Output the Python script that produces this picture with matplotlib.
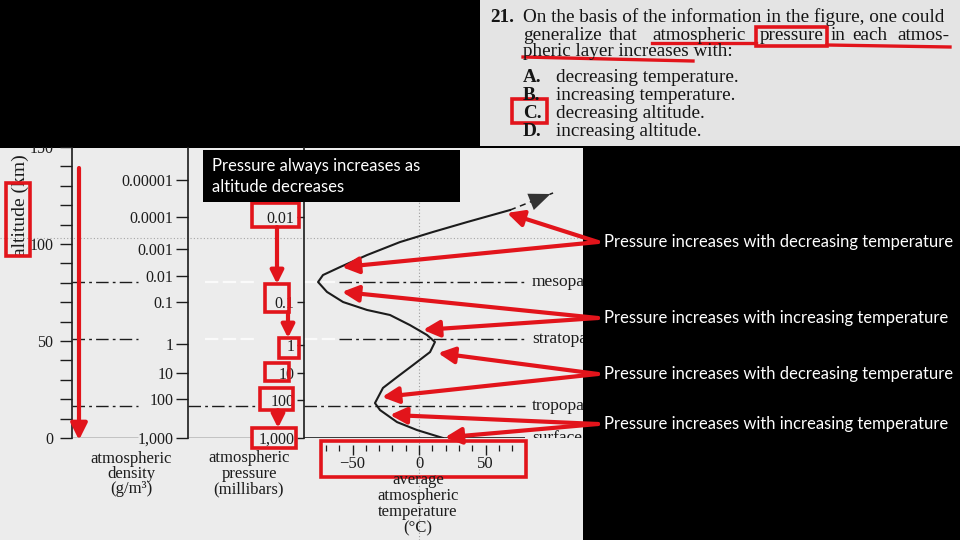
import numpy as np
import matplotlib.pyplot as plt
from matplotlib.patches import Rectangle

W, H = 960, 540

# average temperature profile
temp_c = [18.0, -1.5, -16.5, -29.3, -33.1, -27.1, -16.5, -4.5, 8.3, 12.0, 6.0, -6.8,
          -21.8, -39.1, -57.1, -69.2, -75.9, -72.2, -59.4, -39.1, -14.3, 10.5, 36.1, 68.4]
alt_km = [0, 4.1, 8.2, 14.4, 18.0, 25.8, 31.4, 37.6, 44.3, 49.5, 53.1, 58.2,
          63.4, 66.0, 70.1, 75.3, 80.4, 84.0, 88.1, 94.3, 101.0, 106.2, 111.3, 117.5]
ext_temp = [68.4, 100.8]
ext_alt = [117.5, 126.3]

alt_major = [0, 50, 100, 150]
alt_minor = list(range(0, 151, 10))

density_labels = ['0.00001', '0.0001', '0.001', '0.01', '0.1', '1', '10', '100', '1,000']
density_alt = [133, 114, 97.4, 83.5, 70.1, 48.5, 33.5, 20.1, 0]

pressure_labels = ['0.01', '0.1', '1', '10', '100', '1,000']
pressure_alt = [114, 70, 48, 33.5, 19.6, 0]

temp_major = [-50, 0, 50]
temp_major_labels = ['\u221250', '0', '50']
temp_minor = list(range(-70, 71, 10))

layer_names = ['tropopause', 'stratopause', 'mesopause']
layer_alt = [16.5, 51, 80.5]

# red arrows: curve points each note points at
arrow_temp = [66.2, -57.9, -57.9, 3.0, 14.3, -27.8, -21.8, 19.5]
arrow_alt = [116, 88.1, 75.3, 55.7, 43.8, 21.1, 11.9, 0.3]
note_y = [242, 318, 374, 424]
notes = ['Pressure increases with decreasing temperature',
         'Pressure increases with increasing temperature',
         'Pressure increases with decreasing temperature',
         'Pressure increases with increasing temperature']

# question text; the justified second line is set word by word
q_line1 = 'On the basis of the information in the figure, one could'
q_line2 = [(523, 'generalize'), (609, 'that'), (652, 'atmospheric'), (760, 'pressure'),
           (831, 'in'), (852, 'each'), (897, 'atmos-')]
q_line3 = 'pheric layer increases with:'
options = [('A.', 'decreasing temperature.'), ('B.', 'increasing temperature.'),
           ('C.', 'decreasing altitude.'), ('D.', 'increasing altitude.')]

ink = '#1c1c1c'
scan = '#ececec'
paper = '#e4e4e4'
red = '#e2141b'
dashdot = (0, (9, 3, 2, 3))
sans = ['Lato', 'DejaVu Sans']

plt.rcParams['font.family'] = ['Liberation Serif', 'DejaVu Serif']


def px_box(x0, y0, x1, y1):
    return [x0 / W, 1 - y1 / H, (x1 - x0) / W, (y1 - y0) / H]


fig = plt.figure(figsize=(9.6, 5.4), dpi=100, facecolor='black')

bg = fig.add_axes([0, 0, 1, 1])
bg.set_xlim(0, W)
bg.set_ylim(H, 0)
bg.axis('off')
bg.add_patch(Rectangle((0, 148), 583, 392, color=scan, lw=0))
bg.add_patch(Rectangle((480, 0), 480, 146, color=paper, lw=0))
bg.hlines(238, 0, 583, colors='#a5a5a5', linestyles=(0, (1, 2)), lw=0.8)


def column(x0, x1):
    a = fig.add_axes(px_box(x0, 147, x1, 438))
    a.patch.set_alpha(0)
    a.set_ylim(0, 150)
    for s in ['top', 'right', 'bottom']:
        a.spines[s].set_visible(False)
    a.spines['left'].set_color(ink)
    a.spines['left'].set_linewidth(1.2)
    return a


# altitude column
aax = column(72, 188)
aax.set_xlim(0, 1)
aax.set_xticks([])
aax.set_yticks(alt_major, [str(v) for v in alt_major])
aax.set_yticks(alt_minor, minor=True)
aax.tick_params(axis='y', which='both', direction='out', length=8.5, width=1,
                color=ink, pad=5, labelsize=11.5, labelcolor=ink)
aax.set_ylabel('altitude (km)', fontsize=14, color=ink)
aax.yaxis.set_label_coords(-0.37, 0.80)
aax.hlines(layer_alt, 0, 0.57, colors=ink, linestyles=[dashdot], lw=1)
aax.hlines(0, 0, 0.57, colors=ink, lw=1)

# density column
dax = column(188, 304)
dax.set_xlim(0, 1)
dax.set_xticks([])
dax.set_yticks(density_alt, density_labels)
dax.tick_params(axis='y', direction='out', length=8.5, width=1, color=ink,
                pad=2, labelsize=11.5, labelcolor=ink)
dax.hlines(layer_alt[0], 0, 0.62, colors=ink, linestyles=[dashdot], lw=1)
dax.hlines(layer_alt[1:], 0.15, 0.6, colors='#fafafa', linestyles=[(0, (6, 2))], lw=1.6)
dax.hlines(0, 0, 0.55, colors=ink, lw=1)

# pressure axis + temperature profile
t_left, t_right = (304 - 419) / 1.33, (583 - 419) / 1.33
tax = column(304, 583)
tax.set_xlim(t_left, t_right)
tax.set_yticks(pressure_alt, pressure_labels)
tax.tick_params(axis='y', direction='out', length=5, width=1, color=ink,
                pad=2, labelsize=11.5, labelcolor=ink)
tax.spines['bottom'].set_position(('outward', 5))
tax.spines['bottom'].set_visible(False)
tax.set_xticks(temp_major, temp_major_labels)
tax.set_xticks(temp_minor, minor=True)
tax.tick_params(axis='x', which='major', direction='out', length=7, width=1,
                color=ink, pad=1, labelsize=12, labelcolor=ink)
tax.tick_params(axis='x', which='minor', direction='out', length=4.5, width=0.9, color=ink)

tax.axvline(0, ymin=-0.35, ymax=0.94, clip_on=False, color='#9c9c9c',
            ls=(0, (1, 2)), lw=0.8, zorder=0)
tax.hlines(layer_alt[0], t_left, 80, colors=ink, linestyles=[dashdot], lw=1)
tax.hlines(layer_alt[1:], -60, 80, colors=ink, linestyles=[dashdot], lw=1)
tax.hlines(layer_alt[1:], t_left, -62, colors='#fafafa', linestyles=[(0, (6, 2))], lw=1.6)
tax.hlines(0, t_left, 80, colors=ink, lw=1.2)
for name, a in zip(['surface'] + layer_names, [0] + layer_alt):
    tax.text(85, a, name, va='center', ha='left', fontsize=12.5, color=ink, clip_on=True)

tax.plot(temp_c, alt_km, color=ink, lw=1.5)
tax.plot(ext_temp, ext_alt, color=ink, lw=1.1, ls=(0, (4, 3)))
tax.annotate('', xy=(ext_temp[1], ext_alt[1]), xytext=(ext_temp[0], ext_alt[0]),
             arrowprops=dict(arrowstyle='-|>,head_length=1.1,head_width=0.45',
                             mutation_scale=14, lw=0, color='#333333'))

for i in range(len(arrow_temp)):
    tax.annotate('', xy=(arrow_temp[i], arrow_alt[i]), xytext=(598, note_y[i // 2]),
                 textcoords=bg.transData,
                 arrowprops=dict(arrowstyle='-|>,head_length=0.7,head_width=0.35',
                                 mutation_scale=14, lw=3, color=red,
                                 shrinkA=0, shrinkB=0))

# overlay: slide annotations
ov = fig.add_axes([0, 0, 1, 1])
ov.set_xlim(0, W)
ov.set_ylim(H, 0)
ov.axis('off')
ov.add_patch(Rectangle((0, 0), 480, 147, color='black', lw=0))

for x, ys, lines in [(131, [459, 474, 489], ['atmospheric', 'density', '(g/m\u00b3)']),
                     (249, [458, 474, 489], ['atmospheric', 'pressure', '(millibars)'])]:
    for y, s in zip(ys, lines):
        ov.text(x, y, s, ha='center', va='center', fontsize=12, color=ink)
# the scan's red box hides the top of "average"
t = ov.text(418, 472, 'average\natmospheric\ntemperature\n(\u00b0C)', ha='center',
            va='top', fontsize=12, color=ink, linespacing=1.0)
t.set_clip_path(Rectangle((300, 479), 250, 61, transform=ov.transData))

# question
qcol = '#151515'
qsize = 13.8
ov.text(490, 17, '21.', ha='left', va='center', fontsize=qsize, color=qcol,
        fontweight='bold')
ov.text(523, 17, q_line1, ha='left', va='center', fontsize=qsize, color=qcol)
for x, w in q_line2:
    ov.text(x, 35, w, ha='left', va='center', fontsize=qsize, color=qcol)
ov.text(523, 52, q_line3, ha='left', va='center', fontsize=qsize, color=qcol)
for k, (letter, txt) in enumerate(options):
    y = 78 + k * 17.7
    ov.text(523, y, letter, ha='left', va='center', fontsize=qsize, color=qcol,
            fontweight='bold')
    ov.text(556, y, txt, ha='left', va='center', fontsize=qsize, color=qcol)

box_kw = dict(fill=False, ec=red, lw=2.6)
ov.add_patch(Rectangle((512, 99), 35, 24, **box_kw))
ov.add_patch(Rectangle((756, 27), 71, 19, **box_kw))
ov.plot([652, 756], [43, 43], color=red, lw=2.4)
ov.plot([827, 950], [45, 47], color=red, lw=2.4)
ov.plot([523, 693], [57, 61], color=red, lw=2.4)

# altitude / pressure markings
ov.add_patch(Rectangle((6, 183), 24, 73, **box_kw))
pressure_boxes = [(252, 203, 299, 227), (265, 284, 289, 312), (279, 338, 299, 358),
                  (265, 363, 289, 381), (260, 388, 293, 410), (252, 428, 296, 448)]
for x0, y0, x1, y1 in pressure_boxes:
    ov.add_patch(Rectangle((x0, y0), x1 - x0, y1 - y0, **box_kw))
ov.add_patch(Rectangle((321, 441), 205, 36, **box_kw))

arr_kw = dict(arrowstyle='-|>,head_length=0.7,head_width=0.35', mutation_scale=14,
              lw=3, color=red, shrinkA=0, shrinkB=0)
ov.annotate('', xy=(79, 440), xytext=(79, 168), arrowprops=arr_kw)
for x, ya, yb in [(277, 227, 284), (288, 312, 338), (278, 410, 428)]:
    ov.annotate('', xy=(x, yb), xytext=(x, ya),
                arrowprops=dict(arr_kw, mutation_scale=11))

ov.add_patch(Rectangle((203, 150), 257, 52, color='black', lw=0))
ov.text(212, 166, 'Pressure always increases as', ha='left', va='center',
        fontsize=12, color='white', family=sans)
ov.text(212, 187, 'altitude decreases', ha='left', va='center',
        fontsize=12, color='white', family=sans)

for y, s in zip(note_y, notes):
    ov.text(604, y, s, ha='left', va='center', fontsize=12, color='white', family=sans)

fig.savefig('out.png', dpi=100, facecolor='black')
